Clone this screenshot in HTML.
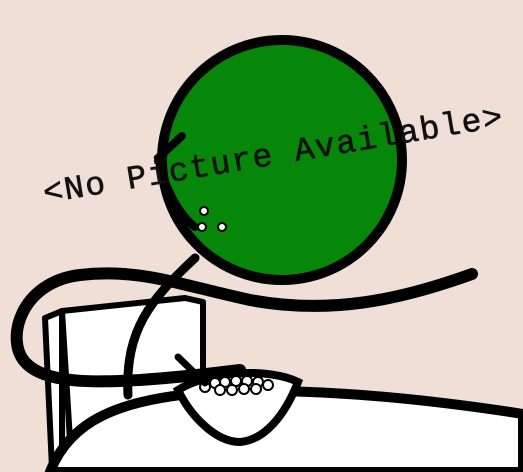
<!DOCTYPE html>
<html><head><meta charset="utf-8"><style>
html,body{margin:0;padding:0;background:#efdfd6;}
svg{display:block}
</style></head><body>
<svg width="523" height="472" viewBox="0 0 523 472" xmlns="http://www.w3.org/2000/svg">
<rect x="0" y="0" width="523" height="472" fill="#efdfd6"/>
<g stroke="#000" stroke-width="6" fill="#fff" stroke-linejoin="round">
<path d="M45,318 L62,311 L62,460 L52,468 Z"/>
<path d="M62,311 L185,298 L203,302 L203,390 L70,440 Z"/>
</g>
<path d="M50,472 C70,420 120,400 200,393 C300,386 420,398 523,414 L523,472 Z" fill="#fff" stroke="#000" stroke-width="10"/>
<path d="M195,258 C150,300 125,330 128,395" fill="none" stroke="#000" stroke-width="9" stroke-linecap="round"/>
<circle cx="282" cy="160" r="120" fill="#06870a" stroke="#000" stroke-width="10"/>
<path d="M182,136 L158,158 C165,190 180,215 195,227" fill="none" stroke="#000" stroke-width="8" stroke-linecap="round"/>
<path d="M472,274 C400,300 330,315 250,300 C180,285 140,268 80,275 C20,282 5,340 25,362 C45,385 100,382 140,380 C170,378 200,375 240,370" fill="none" stroke="#000" stroke-width="12" stroke-linecap="round"/>
<g>
<path d="M178,390 C210,370 270,368 298,382 C285,415 265,440 240,442 C215,442 190,415 178,390 Z" fill="#fff" stroke="#000" stroke-width="8"/>
<g fill="#fff" stroke="#000" stroke-width="2">
<circle cx="205" cy="387" r="5"/><circle cx="215" cy="383" r="5"/><circle cx="225" cy="382" r="5"/><circle cx="236" cy="381" r="5"/><circle cx="247" cy="381" r="5"/><circle cx="258" cy="382" r="5"/><circle cx="268" cy="385" r="5"/><circle cx="220" cy="390" r="5"/><circle cx="232" cy="390" r="5"/><circle cx="244" cy="389" r="5"/><circle cx="256" cy="389" r="5"/>
</g>
<line x1="178" y1="357" x2="205" y2="383" stroke="#000" stroke-width="7" stroke-linecap="round"/>
</g>
<g fill="#fff" stroke="#000" stroke-width="2">
<circle cx="204" cy="211" r="4"/><circle cx="202" cy="227" r="4"/><circle cx="222" cy="227" r="4"/>
</g>
<text x="45" y="203" transform="rotate(-9.5 45 203)" font-family="Liberation Mono, monospace" font-size="33" letter-spacing="1.4" fill="#111" stroke="#111" stroke-width="0.6">&lt;No Picture Available&gt;</text>
</svg>
</body></html>
